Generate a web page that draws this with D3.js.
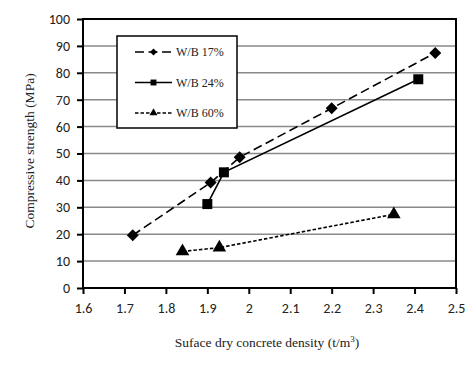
<!DOCTYPE html>
<html>
<head>
<meta charset="utf-8">
<style>
  body { margin: 0; background: #fff; }
  svg { display: block; }
</style>
</head>
<body>
<svg id="chart" width="474" height="367"></svg>
<script src="https://d3js.org/d3.v7.min.js"></script>
<script>
    // data
    var xTicks = [1.6, 1.7, 1.8, 1.9, 2, 2.1, 2.2, 2.3, 2.4, 2.5];
    var yTicks = [0, 10, 20, 30, 40, 50, 60, 70, 80, 90, 100];

    var wb17 = [[1.72, 19.6], [1.908, 39.2], [1.978, 48.6], [2.2, 66.8], [2.45, 87.4]];
    var wb24 = [[1.90, 31.2], [1.94, 43.0], [2.409, 77.6]];
    var wb60 = [[1.84, 13.6], [1.929, 15.0], [2.35, 27.4]];

    var seriesNames = ["W/B 17%", "W/B 24%", "W/B 60%"];

    var svg = d3.select("#chart"),
        pLeft = 83, pRight = 456, pTop = 19, pBottom = 288;

    var x = d3.scaleLinear().domain([1.6, 2.5]).range([pLeft, pRight]);
    var y = d3.scaleLinear().domain([0, 100]).range([pBottom, pTop]);

    // horizontal grid
    svg.append("g")
        .selectAll("line")
        .data(yTicks.slice(1, -1))
        .enter().append("line")
        .attr("x1", pLeft).attr("x2", pRight)
        .attr("y1", d => y(d)).attr("y2", d => y(d))
        .attr("stroke", "#8a8a8a")
        .attr("stroke-width", 1.5);

    // axes
    var xAxis = svg.append("g")
        .attr("transform", "translate(0," + pBottom + ")")
        .call(d3.axisBottom(x).tickValues(xTicks).tickSize(6).tickPadding(9)
            .tickFormat(d => d3.format("")(d)));
    var yAxis = svg.append("g")
        .attr("transform", "translate(" + pLeft + ",0)")
        .call(d3.axisLeft(y).tickValues(yTicks).tickSize(6).tickPadding(7));

    [xAxis, yAxis].forEach(function (a) {
        a.select(".domain").remove();
        a.selectAll("line").attr("stroke", "#000").attr("stroke-width", 2);
        a.selectAll("text")
            .attr("font-family", "Carlito, 'Open Sans', sans-serif")
            .attr("font-size", 14)
            .attr("fill", "#222");
    });

    // plot frame
    svg.append("rect")
        .attr("x", pLeft).attr("y", pTop)
        .attr("width", pRight - pLeft).attr("height", pBottom - pTop)
        .attr("fill", "none")
        .attr("stroke", "#000")
        .attr("stroke-width", 2);

    var line = d3.line().x(d => x(d[0])).y(d => y(d[1]));

    var styles = [
        {data: wb17, dash: "9,4.5", marker: d3.symbolSquare, size: 72, rot: 45},
        {data: wb24, dash: null, marker: d3.symbolSquare, size: 100, rot: 0},
        {data: wb60, dash: "3.5,2", marker: d3.symbolTriangle, size: 80, rot: 0}
    ];

    styles.forEach(function (s) {
        svg.append("path")
            .datum(s.data)
            .attr("d", line)
            .attr("fill", "none")
            .attr("stroke", "#000")
            .attr("stroke-width", 1.6)
            .attr("stroke-dasharray", s.dash);
        svg.append("g")
            .selectAll("path")
            .data(s.data)
            .enter().append("path")
            .attr("transform", d => "translate(" + x(d[0]) + "," + y(d[1]) + ") rotate(" + s.rot + ")")
            .attr("d", d3.symbol().type(s.marker).size(s.size))
            .attr("fill", "#000");
    });

    // legend
    var lg = svg.append("g");
    lg.append("rect")
        .attr("x", 117).attr("y", 36)
        .attr("width", 120).attr("height", 92)
        .attr("fill", "#fff")
        .attr("stroke", "#000")
        .attr("stroke-width", 1.5);

    styles.forEach(function (s, i) {
        var ly = 52 + i * 30.5;
        lg.append("line")
            .attr("x1", 135).attr("x2", 172)
            .attr("y1", ly).attr("y2", ly)
            .attr("stroke", "#000")
            .attr("stroke-width", 1.6)
            .attr("stroke-dasharray", s.dash);
        lg.append("path")
            .attr("transform", "translate(153.5," + ly + ") rotate(" + s.rot + ")")
            .attr("d", d3.symbol().type(s.marker).size(s.size * 0.35))
            .attr("fill", "#000");
        lg.append("text")
            .attr("x", 176).attr("y", ly + 4)
            .attr("font-family", "'Liberation Serif', 'Times New Roman', serif")
            .attr("font-size", 12)
            .attr("fill", "#222")
            .text(seriesNames[i]);
    });

    // axis titles
    svg.append("text")
        .attr("transform", "translate(34,151) rotate(-90)")
        .attr("text-anchor", "middle")
        .attr("font-family", "'Liberation Serif', 'Times New Roman', serif")
        .attr("font-size", 13.5)
        .attr("fill", "#222")
        .text("Compressive strength (MPa)");

    var xt = svg.append("text")
        .attr("x", 267).attr("y", 347)
        .attr("text-anchor", "middle")
        .attr("font-family", "'Liberation Serif', 'Times New Roman', serif")
        .attr("font-size", 13.5)
        .attr("fill", "#222");
    xt.append("tspan").text("Suface dry concrete density (t/m");
    xt.append("tspan").attr("font-size", 9).attr("dy", -5).text("3");
    xt.append("tspan").attr("dy", 5).text(")");
</script>
</body>
</html>
